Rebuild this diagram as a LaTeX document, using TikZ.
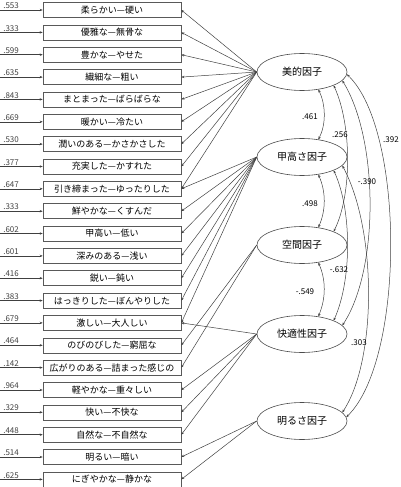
\documentclass[tikz,border=0pt]{standalone}
\usepackage{fontspec}
\setmainfont{Noto Sans CJK JP}
\usetikzlibrary{shapes.geometric,arrows.meta}
\tikzset{
  item/.style={draw=black!65, line width=0.6pt, minimum width=138pt, minimum height=15pt, inner sep=0pt, font=\fontsize{9}{9}\selectfont},
  factor/.style={draw=black!70, line width=0.6pt, ellipse, minimum width=90pt, minimum height=37pt, inner sep=0pt, font=\fontsize{10}{10}\selectfont},
  load/.style={black!75, line width=0.5pt, -{Stealth[length=3pt,width=2.4pt]}},
  corr/.style={black!75, line width=0.5pt, {Stealth[length=3pt,width=2.4pt]}-{Stealth[length=3pt,width=2.4pt]}},
  val/.style={font=\fontsize{8}{8}\selectfont, inner sep=1pt},
}
\begin{document}
\begin{tikzpicture}[x=1pt, y=-1pt]
\useasboundingbox (0,0) rectangle (400,487);
% observed items
\node[item] (b1) at (112,10) {柔らかい—硬い};
\node[item] (b2) at (112,32.4) {優雅な—無骨な};
\node[item] (b3) at (112,54.7) {豊かな—やせた};
\node[item] (b4) at (112,77.1) {繊細な—粗い};
\node[item] (b5) at (112,99.4) {まとまった—ばらばらな};
\node[item] (b6) at (112,121.8) {暖かい—冷たい};
\node[item] (b7) at (112,144.1) {潤いのある—かさかさした};
\node[item] (b8) at (112,166.5) {充実した—かすれた};
\node[item] (b9) at (112,188.8) {引き締まった—ゆったりした};
\node[item] (b10) at (112,211.2) {鮮やかな—くすんだ};
\node[item] (b11) at (112,233.5) {甲高い—低い};
\node[item] (b12) at (112,255.9) {深みのある—浅い};
\node[item] (b13) at (112,278.2) {鋭い—鈍い};
\node[item] (b14) at (112,300.6) {はっきりした—ぼんやりした};
\node[item] (b15) at (112,322.9) {激しい—大人しい};
\node[item] (b16) at (112,345.3) {のびのびした—窮屈な};
\node[item] (b17) at (112,367.6) {広がりのある—詰まった感じの};
\node[item] (b18) at (112,390) {軽やかな—重々しい};
\node[item] (b19) at (112,412.3) {快い—不快な};
\node[item] (b20) at (112,434.7) {自然な—不自然な};
\node[item] (b21) at (112,457) {明るい—暗い};
\node[item] (b22) at (112,479.4) {にぎやかな—静かな};
% error terms
\foreach \i/\v in {1/.553,2/.333,3/.599,4/.635,5/.843,6/.669,7/.530,8/.377,9/.647,10/.333,11/.602,
  12/.601,13/.416,14/.383,15/.679,16/.464,17/.142,18/.964,19/.329,20/.448,21/.514,22/.625}{
  \coordinate (e\i) at (b\i.west -| 0,0);
  \draw[load] (e\i) -- (b\i.west) node[val, above, pos=0.26] {\v};
}
% factors
\node[factor] (beauty) at (302,72) {美的因子};
\node[factor] (pitch) at (302,157) {甲高さ因子};
\node[factor] (space) at (302,245) {空間因子};
\node[factor] (comfort) at (302,334) {快適性因子};
\node[factor] (bright) at (302,421) {明るさ因子};
% loadings
\foreach \i in {1,...,9} \draw[load] (beauty.west) -- (b\i.east);
\foreach \i in {9,...,15} \draw[load] (pitch.west) -- (b\i.east);
\foreach \i in {16,17} \draw[load] (space.west) -- (b\i.east);
\foreach \i in {15,18,19,20} \draw[load] (comfort.west) -- (b\i.east);
\foreach \i in {21,22} \draw[load] (bright.west) -- (b\i.east);
% correlations
\draw[corr] (beauty.-47) .. controls (326,105) and (326,125) .. (pitch.47);
\draw[corr] (pitch.-47) .. controls (326,192) and (326,210) .. (space.47);
\draw[corr] (space.-47) .. controls (326,280) and (326,298) .. (comfort.47);
\draw[corr] (beauty.-23) .. controls (352,125) and (352,195) .. (space.23);
\draw[corr] (beauty.-12) .. controls (379,140) and (379,270) .. (comfort.12);
\draw[corr] (pitch.-23) .. controls (352,210) and (352,280) .. (comfort.23);
\draw[corr] (pitch.-12) .. controls (377,230) and (377,360) .. (bright.12);
\draw[corr] (beauty.-3) .. controls (405,130) and (405,360) .. (bright.5);
\node[val] (r1) at (310,117) {.461};
\node[val] (r2) at (310,204) {.498};
\node[val] (r3) at (305,292) {-.549};
\node[val] (r4) at (340,135) {.256};
\node[val] (r5) at (391,140) {.392};
\node[val] (r6) at (367,182) {-.390};
\node[val] (r7) at (339,270) {-.632};
\node[val] (r8) at (359,343) {.303};
\end{tikzpicture}
\end{document}
